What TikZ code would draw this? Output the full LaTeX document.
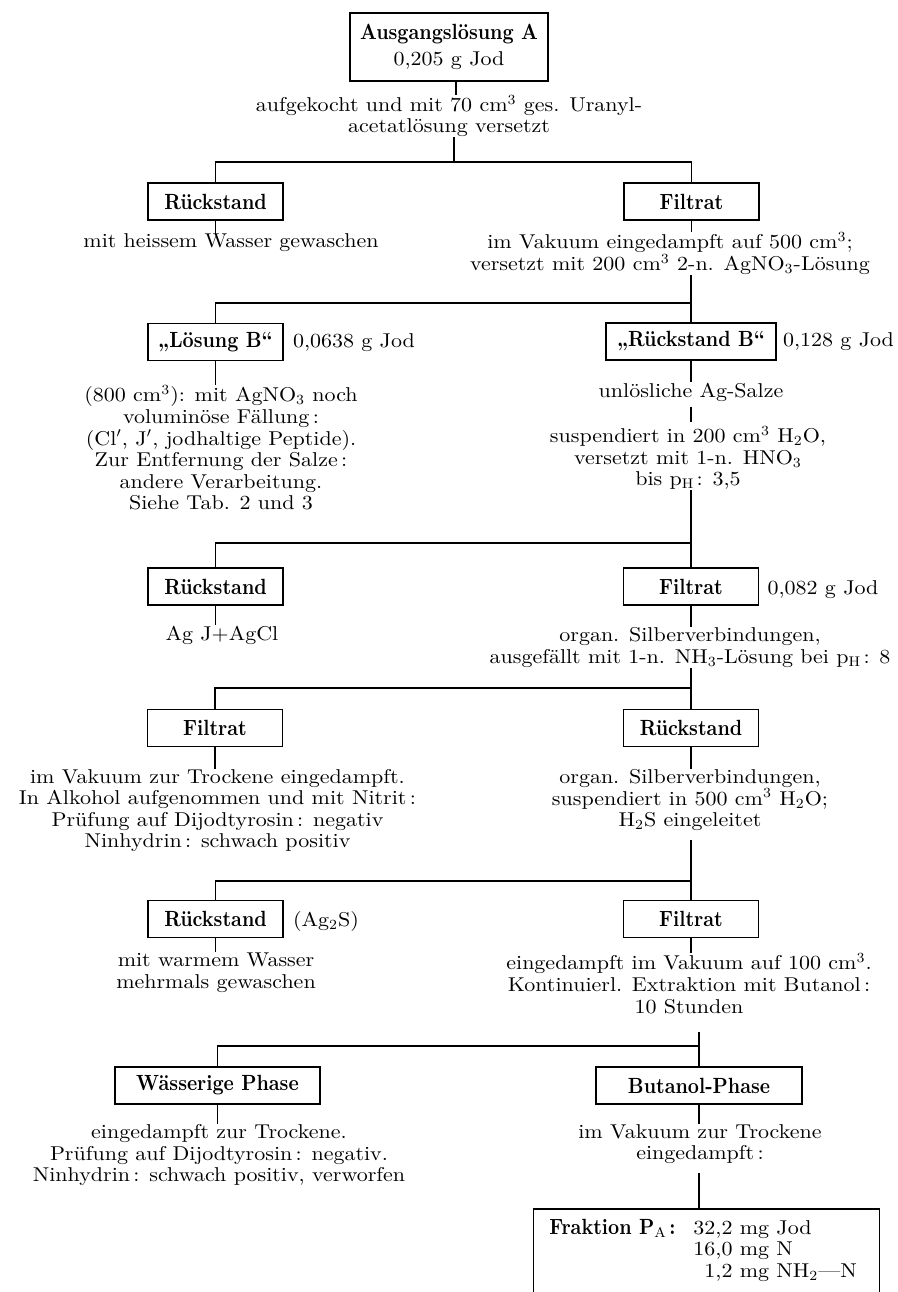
\documentclass[tikz,border=0pt]{standalone}
\usepackage{fontspec}
\setmainfont{lmroman10-regular.otf}[FakeStretch=1.1]
\newfontfamily\bx{lmroman10-bold.otf}[FakeStretch=0.88, Scale=1.1]
\begin{document}
\fontsize{10}{10.8}\selectfont
\begin{tikzpicture}[x=0.5pt,y=-0.5pt,
  box/.style={draw, line width=0.6pt, inner sep=0pt, minimum width=67.5pt, minimum height=18.5pt, font=\bx},
  txt/.style={align=center, inner sep=0pt, font=\fontsize{10}{10.8}\selectfont},
  side/.style={inner sep=0pt, anchor=base west},
  link/.style={line width=0.55pt}]
\useasboundingbox (0,0) rectangle (898,1292);

% starting solution
\node[box, minimum width=99pt, minimum height=34pt, align=center, font=\fontsize{10}{13}\selectfont] (A) at (449,47) {{\bx Ausgangslösung A}\\0,205 g Jod};
\node[txt] (T0) at (449,116) {aufgekocht und mit 70 cm$^3$ ges. Uranyl-\\acetatlösung versetzt};
\draw[link] ([xshift=3.5pt]A.south) -- ([xshift=3.5pt]A.south |- T0.north);

% first separation
\node[box] (R1) at (215.5,201.5) {Rückstand};
\node[box] (F1) at (691.5,201.5) {Filtrat};
\coordinate (j1) at (454,162);
\draw[link] (j1 |- T0.south) -- (j1);
\draw[link] (R1.north) |- (j1) -| (F1.north);
\node[txt] (T1) at (231,243) {mit heissem Wasser gewaschen};
\node[txt] (T2) at (670,253.5) {im Vakuum eingedampft auf 500 cm$^3$;\\versetzt mit 200 cm$^3$ 2-n. AgNO$_3$-Lösung};
\draw[link] (R1.south) -- (R1.south |- T1.north);
\draw[link] (F1.south) -- (F1.south |- T2.north);

% silver nitrate precipitation
\node[box] (LB) at (215.5,342) {„Lösung B“};
\node[box, minimum width=85pt] (RB) at (691,341.5) {„Rückstand B“};
\node[side] (LBm) at ([xshift=4.5pt]LB.base east) {0,0638 g Jod};
\node[side] (RBm) at ([xshift=3pt]RB.base east) {0,128 g Jod};
\coordinate (j2) at (691,303);
\draw[link] (j2 |- T2.south) -- (RB.north);
\draw[link] (LB.north) |- (j2);
\node[txt] (T3) at (221,448) {(800 cm$^3$): mit AgNO$_3$ noch\\voluminöse Fällung\,:\\(Cl$'$, J$'$, jodhaltige Peptide).\\Zur Entfernung der Salze\,:\\andere Verarbeitung.\\Siehe Tab. 2 und 3};
\node[txt] (T4a) at (691,392) {unlösliche Ag-Salze};
\node[txt] (T4b) at (688,458) {suspendiert in 200 cm$^3$ H$_2$O,\\versetzt mit 1-n. HNO$_3$\\bis p$_\mathrm{H}$\,: 3,5};
\draw[link] (LB.south) -- (LB.south |- T3.north);
\draw[link] (RB.south) -- (RB.south |- T4a.north);
\draw[link, shorten <=2.5pt, shorten >=2pt] (T4a.south -| j2) -- (T4b.north -| j2);

% acid treatment
\node[box] (R2) at (215.5,586.5) {Rückstand};
\node[box] (F2) at (691,586.5) {Filtrat};
\node[side] (F2m) at ([xshift=4pt]F2.base east) {0,082 g Jod};
\coordinate (j3) at (691,543);
\draw[link] (j3 |- T4b.south) -- (F2.north);
\draw[link] (R2.north) |- (j3);
\node[txt] (T5) at (222,635) {Ag J+AgCl};
\node[txt] (T6) at (690,647.5) {organ. Silberverbindungen,\\ausgefällt mit 1-n. NH$_3$-Lösung bei p$_\mathrm{H}$\,: 8};
\draw[link] (R2.south) -- (R2.south |- T5.north);
\draw[link] (F2.south) -- (F2.south |- T6.north);

% ammonia precipitation
\node[box] (F3) at (215,728) {Filtrat};
\node[box] (R3) at (691,728) {Rückstand};
\coordinate (j4) at (691,688);
\draw[link] (j4 |- T6.south) -- (R3.north);
\draw[link] (F3.north) |- (j4);
\node[txt] (T7) at (217.5,810.5) {im Vakuum zur Trockene eingedampft.\\In Alkohol aufgenommen und mit Nitrit\,:\\Prüfung auf Dijodtyrosin\,: negativ\\Ninhydrin\,: schwach positiv};
\node[txt] (T8) at (690,800) {organ. Silberverbindungen,\\suspendiert in 500 cm$^3$ H$_2$O;\\H$_2$S eingeleitet};
\draw[link] (F3.south) -- (F3.south |- T7.north);
\draw[link] (R3.south) -- (R3.south |- T8.north);

% hydrogen sulfide treatment
\node[box] (R4) at (215.5,919) {Rückstand};
\node[box] (F4) at (691,919) {Filtrat};
\node[side] (R4m) at ([xshift=4.5pt]R4.base east) {(Ag$_2$S)};
\coordinate (s5) at (691,840);
\coordinate (j5) at (691,881);
\draw[link] (s5) -- (F4.north);
\draw[link] (R4.north) |- (j5);
\node[txt] (T9) at (216,972.5) {mit warmem Wasser\\mehrmals gewaschen};
\node[txt] (T10) at (689,983.5) {eingedampft im Vakuum auf 100 cm$^3$.\\Kontinuierl. Extraktion mit Butanol\,:\\10 Stunden};
\draw[link] (R4.south) -- (R4.south |- T9.north);
\draw[link] (F4.south) -- (F4.south |- T10.north);

% butanol extraction
\node[box, minimum width=102.5pt] (WP) at (217.5,1085.5) {Wässerige Phase};
\node[box, minimum width=103pt] (BP) at (699,1085.5) {Butanol-Phase};
\coordinate (s6) at (699,1032);
\coordinate (j6) at (699,1046);
\draw[link] (s6) -- (BP.north);
\draw[link] (WP.north) |- (j6);
\node[txt] (T11) at (219,1155) {eingedampft zur Trockene.\\Prüfung auf Dijodtyrosin\,: negativ.\\Ninhydrin\,: schwach positiv, verworfen};
\node[txt] (T12) at (700,1144) {im Vakuum zur Trockene\\eingedampft\,:};
\draw[link] (WP.south) -- (WP.south |- T11.north);
\draw[link] (BP.south) -- (BP.south |- T12.north);

% final fraction
\node[inner sep=0pt, minimum width=172.5pt, minimum height=41.5pt, anchor=north] (FP) at (706.5,1209) {};
\draw[line width=0.6pt] (FP.south west) |- (FP.north east) -- (FP.south east);
\coordinate (s7) at (699,1173);
\draw[link] (s7) -- (s7 |- FP.north);
\node[anchor=base west, inner sep=0pt] (FPt) at (549,1234) {\begin{tabular}[t]{@{}l@{}l@{}}\makebox[72pt][l]{\bx Fraktion P$_{\mathbf{A}}$\,:} & 32,2 mg Jod\\ & 16,0 mg N\\ & \phantom{0}1,2 mg NH$_2$---N\end{tabular}};
\end{tikzpicture}
\end{document}
